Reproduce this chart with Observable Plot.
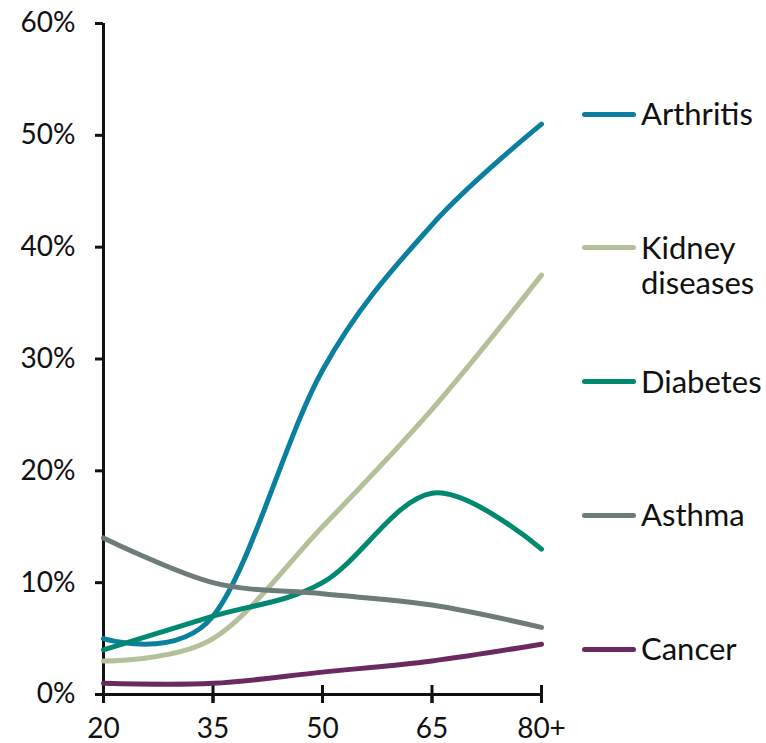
<!DOCTYPE html>
<html>
<head>
<meta charset="utf-8">
<script src="https://cdn.jsdelivr.net/npm/d3@7"></script>
<script src="https://cdn.jsdelivr.net/npm/@observablehq/plot@0.6"></script>
<style>
  html, body { margin: 0; padding: 0; background: #fff; }
  #wrap { position: relative; width: 766px; height: 743px; font-family: Lato, "Open Sans", sans-serif; }
  #legend { position: absolute; left: 582px; top: 0; }
  .item { position: absolute; left: 0; display: flex; align-items: flex-start; white-space: nowrap; }
  .swatch { width: 54px; height: 5px; border-radius: 3px; margin-top: 15.5px; margin-right: 5px; flex: none; }
  .name { font-size: 31px; line-height: 35px; color: #111; }
</style>
</head>
<body>
<div id="wrap"><div id="legend"></div></div>
<script>
// Age groups on the horizontal axis
const ages = [20, 35, 50, 65, 80];
const ageLabels = ["20", "35", "50", "65", "80+"];

// Share of people with each condition, by age
const diseases = ["Arthritis", "Kidney diseases", "Diabetes", "Asthma", "Cancer"];
const arthritis = [0.05, 0.07, 0.29, 0.42, 0.51];
const kidney    = [0.03, 0.05, 0.15, 0.255, 0.375];
const diabetes  = [0.04, 0.07, 0.10, 0.18, 0.13];
const asthma    = [0.14, 0.10, 0.09, 0.08, 0.06];
const cancer    = [0.01, 0.01, 0.02, 0.03, 0.045];
const colors = ["#0a7fa0", "#b3c09a", "#00896f", "#6e7b7b", "#6b2a5f"];

// Percentage ticks
const yTicks = [0, 0.1, 0.2, 0.3, 0.4, 0.5, 0.6];

const series = [arthritis, kidney, diabetes, asthma, cancer];
const rows = diseases.flatMap((name, i) =>
  ages.map((age, j) => ({disease: name, age, value: series[i][j]}))
);

const chart = Plot.plot({
  width: 766,
  height: 743,
  marginLeft: 103,
  marginRight: 225,
  marginTop: 23,
  marginBottom: 49,
  style: {fontFamily: "Lato, 'Open Sans', sans-serif", fontSize: "28px", color: "#111", background: "#fff"},
  x: {domain: [20, 80]},
  y: {domain: [0, 0.6]},
  color: {domain: diseases, range: colors},
  marks: [
    Plot.axisY(yTicks, {tickSize: 8, tickPadding: 20, tickFormat: d3.format(".0%"), strokeWidth: 3, fontSize: 28, label: null}),
    Plot.axisX(ages, {tickSize: 9, tickPadding: 15, tickFormat: d => ageLabels[ages.indexOf(d)], strokeWidth: 3, fontSize: 28, label: null}),
    // upper half of the crossing x ticks
    Plot.ruleX(ages, {x: d => d, y1: 0, y2: 0, insetTop: -9, insetBottom: -9, strokeWidth: 3}),
    Plot.ruleY([0], {strokeWidth: 3}),
    Plot.ruleX([20], {y1: 0, y2: 0.6, strokeWidth: 3}),
    Plot.line(rows, {x: "age", y: "value", stroke: "disease", z: "disease", strokeWidth: 5, curve: "cardinal", strokeLinecap: "round"})
  ]
});

const wrap = document.getElementById("wrap");
wrap.insertBefore(chart, wrap.firstChild);

// Legend: evenly spaced entries to the right of the plot
const legend = document.getElementById("legend");
diseases.forEach((name, i) => {
  const item = document.createElement("div");
  item.className = "item";
  item.style.top = (114 + 133.8 * i - 18) + "px";
  const sw = document.createElement("span");
  sw.className = "swatch";
  sw.style.background = colors[i];
  const label = document.createElement("span");
  label.className = "name";
  label.innerHTML = name === "Kidney diseases" ? "Kidney<br>diseases" : name;
  item.appendChild(sw);
  item.appendChild(label);
  legend.appendChild(item);
});
</script>
</body>
</html>
